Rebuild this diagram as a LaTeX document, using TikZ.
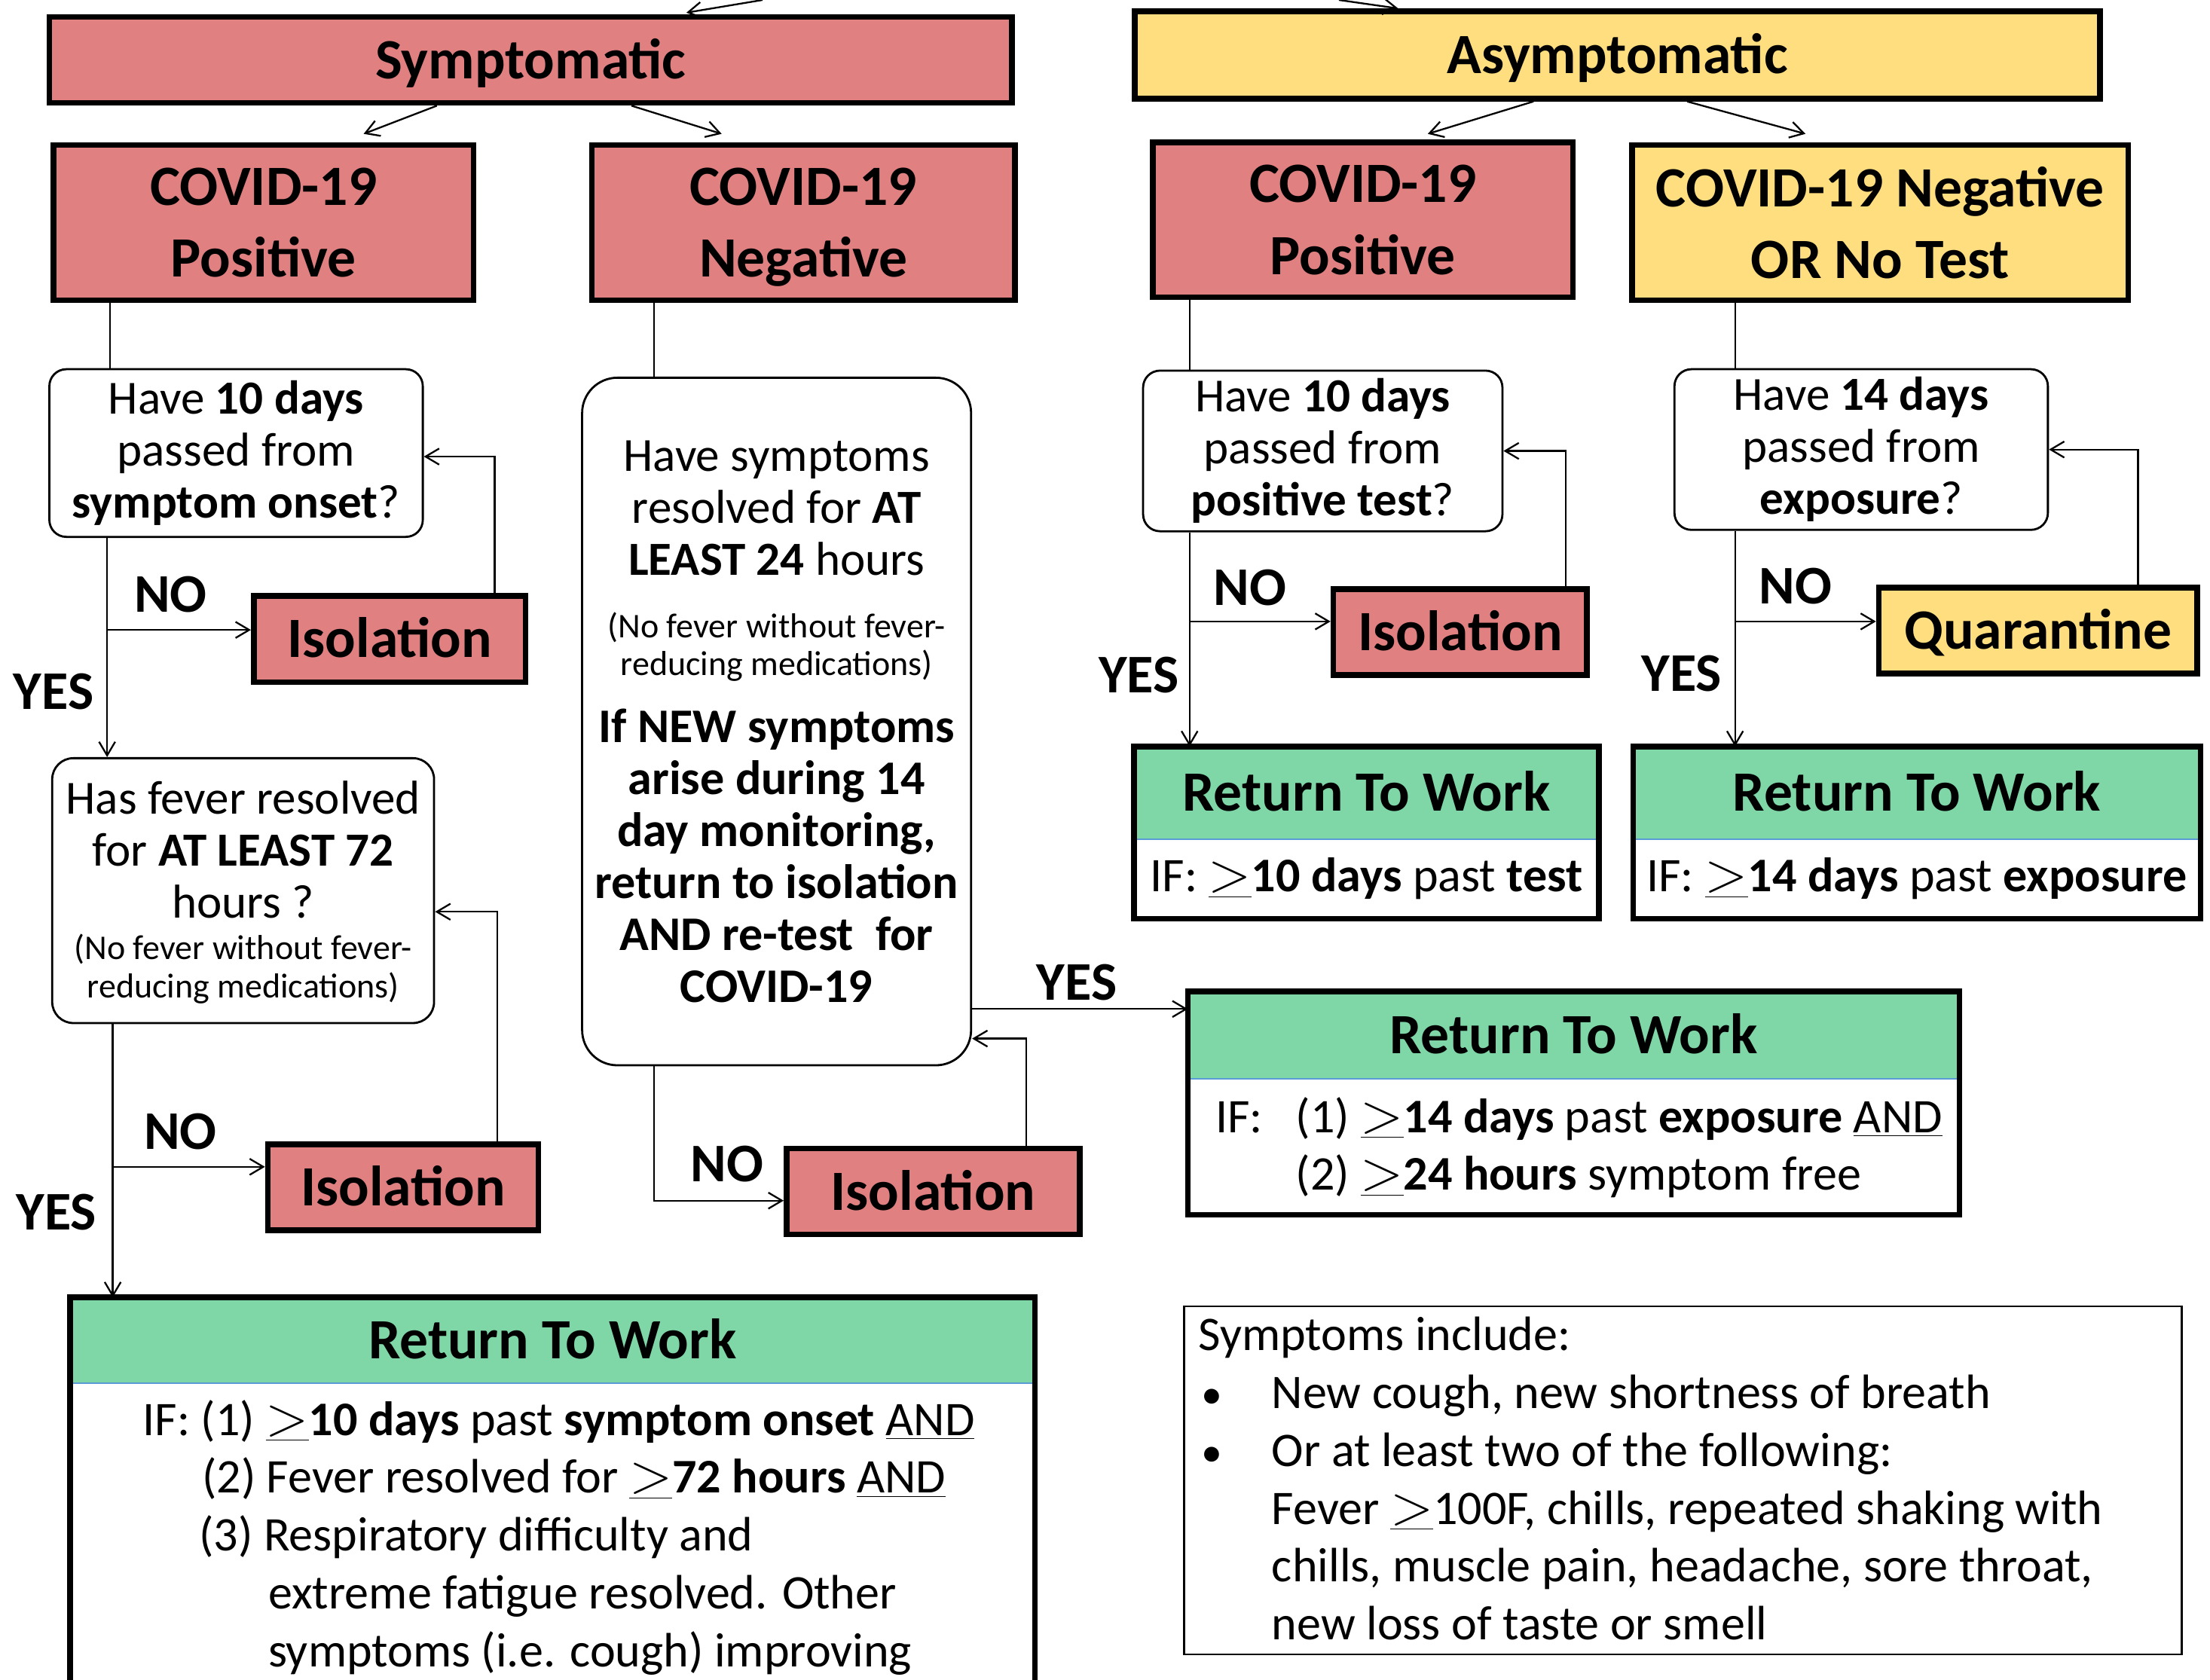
\documentclass[tikz,border=0pt]{standalone}
\usepackage{fontspec}
\setmainfont{Carlito}
\usetikzlibrary{arrows.meta}
\definecolor{redf}{HTML}{E08080}
\definecolor{yelf}{HTML}{FFDE80}
\definecolor{grnf}{HTML}{7FD6A6}
\definecolor{divl}{HTML}{5B9BD5}
\newcommand{\fsz}[2]{\fontsize{#1}{#2}\selectfont}
\newcommand{\geqc}{\ensuremath{\underline{\hbox{\scalebox{1.1}{$>$}}}}}
\begin{document}
\begin{tikzpicture}[x=0.02cm,y=-0.02cm,
  thickbox/.style={draw=black, line width=2.3pt, inner sep=0pt, align=center, font=\fsz{23}{29}\bfseries},
  oneline/.style={text height=15pt, text depth=0pt},
  twoline/.style={text depth=-2.2pt},
  redbox/.style={thickbox, fill=redf},
  yelbox/.style={thickbox, fill=yelf},
  qbox/.style={draw=black, line width=0.85pt, rounded corners=0.24cm, fill=white, align=center, inner sep=0pt, font=\fsz{19.2}{21}},
  qtext/.style={align=center, inner sep=0pt, font=\fsz{19.2}{21}},
  smalltext/.style={align=center, inner sep=0pt, font=\fsz{14}{15.4}},
  conn/.style={draw=black, line width=0.7pt, -{Straight Barb[length=5.5pt,width=6.5pt]}},
  plain/.style={draw=black, line width=0.7pt},
  lbl/.style={font=\fsz{22}{26}\bfseries, inner sep=0pt},
  txt/.style={inner sep=0pt, font=\fsz{19.5}{23.3}, text height=14.6pt, text depth=2.6pt, anchor=west},
  hdr/.style={fill=grnf, inner sep=0pt, font=\fsz{23}{27}\bfseries, text height=15pt, text depth=0pt},
  bodyb/.style={fill=white, inner sep=0pt, font=\fsz{19.5}{23.3}},
  outer/.style={draw=black, line width=2.3pt},
  divider/.style={draw=divl, line width=0.6pt}
]
\path[use as bounding box] (0,0) rectangle (1568,1192);
\clip (0,0) rectangle (1568,1192);
\fill[white] (0,0) rectangle (1568,1192);

% top level
\node[redbox, oneline, minimum width=13.66cm, minimum height=1.22cm] (symp) at (376.5,42.5) {Symptomatic};
\node[yelbox, oneline, minimum width=13.70cm, minimum height=1.24cm] (asym) at (1147.5,39) {Asymptomatic};

% second level
\node[redbox, twoline, minimum width=5.96cm, minimum height=2.2cm] (cposL) at (187,158) {COVID-19\\Positive};
\node[redbox, twoline, minimum width=6.0cm, minimum height=2.2cm] (cnegL) at (570,158) {COVID-19\\Negative};
\node[redbox, twoline, minimum width=5.96cm, minimum height=2.2cm] (cposR) at (967,156) {COVID-19\\Positive};
\node[yelbox, twoline, minimum width=7.04cm, minimum height=2.2cm] (cnegR) at (1334,158) {COVID-19 Negative\\OR No Test};

% question boxes
\node[qbox, minimum width=5.3cm, minimum height=2.38cm] (q1) at (167.5,321.5) {Have \textbf{10 days}\\passed from\\\textbf{symptom onset}?};
\node[qbox, minimum width=5.1cm, minimum height=2.28cm] (q3) at (938.5,320) {Have \textbf{10 days}\\passed from\\\textbf{positive test}?};
\node[qbox, minimum width=5.3cm, minimum height=2.28cm] (q4) at (1320.5,319) {Have \textbf{14 days}\\passed from\\\textbf{exposure}?};

% fever box
\node[qbox, minimum width=5.42cm, minimum height=3.76cm, rounded corners=0.3cm] (fever) at (172.5,632) {};
\node[qtext] (fevT) at (172.5,603) {Has fever resolved\\for \textbf{AT LEAST 72}\\hours ?};
\node[smalltext] (fevS) at (172.5,687.5) {(No fever without fever-\\reducing medications)};

% middle box
\node[qbox, minimum width=5.52cm, minimum height=9.76cm, rounded corners=0.5cm] (mid) at (551,512) {};
\node[qtext] (midT) at (551,360.5) {Have symptoms\\resolved for \textbf{AT}\\\textbf{LEAST 24} hours};
\node[smalltext] (midS) at (551,459) {(No fever without fever-\\reducing medications)};
\node[qtext, font=\fsz{19.5}{21}\bfseries] (midB) at (551,607.5) {If NEW symptoms\\arise during 14\\day monitoring,\\return to isolation\\AND re-test~ for\\COVID-19};

% isolation / quarantine
\node[redbox, oneline, minimum width=3.86cm, minimum height=1.22cm] (iso1) at (276.5,453.5) {Isolation};
\node[redbox, oneline, minimum width=3.84cm, minimum height=1.22cm] (iso2) at (286,842.5) {Isolation};
\node[redbox, oneline, minimum width=4.16cm, minimum height=1.22cm] (iso3) at (662,845.5) {Isolation};
\node[redbox, oneline, minimum width=3.6cm, minimum height=1.22cm] (iso4) at (1036,448.5) {Isolation};
\node[yelbox, oneline, minimum width=4.52cm, minimum height=1.22cm] (quar) at (1446,447.5) {Quarantine};

% Return to work A
\node[hdr, minimum width=6.58cm, minimum height=1.3cm] (hdrA) at (969.5,562.5) {Return To Work};
\node[bodyb, minimum width=6.58cm, minimum height=1.12cm, anchor=north] (bodyA) at (hdrA.south) {IF: \geqc\textbf{10 days} past \textbf{test}};
\draw[divider] (hdrA.south west) -- (hdrA.south east);
\draw[outer] (hdrA.north west) rectangle (bodyA.south east);

% Return to work B
\node[hdr, minimum width=8.04cm, minimum height=1.3cm] (hdrB) at (1360,562.5) {Return To Work};
\node[bodyb, minimum width=8.04cm, minimum height=1.12cm, anchor=north] (bodyB) at (hdrB.south) {IF: \geqc\textbf{14 days} past \textbf{exposure}};
\draw[divider] (hdrB.south west) -- (hdrB.south east);
\draw[outer] (hdrB.north west) rectangle (bodyB.south east);

% Return to work C
\node[hdr, minimum width=10.94cm, minimum height=1.22cm] (hdrC) at (1116.5,734.5) {Return To Work};
\node[bodyb, minimum width=10.94cm, minimum height=1.92cm, anchor=north] (bodyC) at (hdrC.south) {};
\draw[divider] (hdrC.south west) -- (hdrC.south east);
\draw[outer] (hdrC.north west) rectangle (bodyC.south east);
\node[txt] (c0) at (862,793) {IF:};
\node[txt] (c1) at (919,793) {(1) \geqc\textbf{14 days} past \textbf{exposure} \underline{AND}};
\node[txt] (c2) at (919,834) {(2) \geqc\textbf{24 hours} symptom free};

% Return to work D
\node[hdr, minimum width=13.68cm, minimum height=1.2cm] (hdrD) at (392,951) {Return To Work};
\node[bodyb, minimum width=13.68cm, minimum height=4.68cm, anchor=north] (bodyD) at (hdrD.south) {};
\draw[divider] (hdrD.south west) -- (hdrD.south east);
\draw[outer] (hdrD.north west) rectangle (bodyD.south east);
\node[txt] (d1) at (101,1008) {IF: (1) \geqc\textbf{10 days} past \textbf{symptom onset} \underline{AND}};
\node[txt] (d2) at (143,1049) {(2) Fever resolved for \geqc\textbf{72 hours} \underline{AND}};
\node[txt] (d3) at (141,1090) {(3) Respiratory difficulty and};
\node[txt] (d4) at (190,1131) {extreme fatigue resolved. Other};
\node[txt] (d5) at (190,1172) {symptoms (i.e. cough) improving};

% symptoms box
\node[draw=black, line width=0.7pt, fill=white, minimum width=14.16cm, minimum height=4.94cm, inner sep=0pt] (sbox) at (1194,1050.5) {};
\node[txt] (s0) at (850,948) {Symptoms include:};
\node[txt, font=\fsz{17}{20}] (sb1) at (852,989) {•};
\node[txt] (s1) at (902,989) {New cough, new shortness of breath};
\node[txt, font=\fsz{17}{20}] (sb2) at (852,1030) {•};
\node[txt] (s2) at (902,1030) {Or at least two of the following:};
\node[txt] (s3) at (902,1071) {Fever \geqc100F, chills, repeated shaking with};
\node[txt] (s4) at (902,1112) {chills, muscle pain, headache, sore throat,};
\node[txt] (s5) at (902,1153) {new loss of taste or smell};

% labels
\node[lbl] (l1) at (121,422) {NO};
\node[lbl] (l2) at (38,491) {YES};
\node[lbl] (l3) at (128,803) {NO};
\node[lbl] (l4) at (40,860) {YES};
\node[lbl] (l5) at (516,826) {NO};
\node[lbl] (l6) at (764,697) {YES};
\node[lbl] (l7) at (887,417) {NO};
\node[lbl] (l8) at (808,479) {YES};
\node[lbl] (l9) at (1274,416) {NO};
\node[lbl] (l10) at (1193,478) {YES};

% helper coordinates
\coordinate (cA) at (78,0);
\coordinate (cA2) at (76,0);
\coordinate (cB) at (80,0);
\coordinate (fb1) at (351,0);
\coordinate (fb2) at (353,0);
\coordinate (cM) at (464,0);
\coordinate (fb3) at (728,0);
\coordinate (cR) at (844,0);
\coordinate (fb4) at (1111,0);
\coordinate (cQ) at (1231,0);
\coordinate (fb5) at (1517,0);
\coordinate (no1) at (0,447);
\coordinate (no2) at (0,828);
\coordinate (no3) at (0,852);
\coordinate (no4) at (0,441);
\coordinate (fbl1) at (0,324);
\coordinate (fbl2) at (0,647);
\coordinate (fbl3) at (0,737);
\coordinate (yesM) at (0,716);
\coordinate (tL) at (541,0);
\coordinate (tLe) at (487,9);
\coordinate (tR) at (950,0);
\coordinate (tRe) at (992,6);
\coordinate (sa) at (310,0);
\coordinate (sb) at (448,0);
\coordinate (aa) at (1088,0);
\coordinate (ab) at (1197,0);
\coordinate (e1) at (258,95);
\coordinate (e2) at (512,95);
\coordinate (e3) at (1013,95);
\coordinate (e4) at (1281,95);

% top connectors
\draw[conn] (tL) -- (tLe);
\draw[conn] (tR) -- (tRe);
\draw[conn] (symp.south -| sa) -- (e1);
\draw[conn] (symp.south -| sb) -- (e2);
\draw[conn] (asym.south -| aa) -- (e3);
\draw[conn] (asym.south -| ab) -- (e4);

% left column
\draw[plain] (cposL.south -| cA) -- (q1.north -| cA);
\draw[conn] (q1.south -| cA2) -- (fever.north -| cA2);
\draw[conn] (no1 -| cA2) -- (iso1.west |- no1);
\draw[conn] (iso1.north -| fb1) |- (q1.east |- fbl1);
\draw[conn] (fever.south -| cB) -- (hdrD.north -| cB);
\draw[conn] (no2 -| cB) -- (iso2.west |- no2);
\draw[conn] (iso2.north -| fb2) |- (fever.east |- fbl2);

% middle column
\draw[plain] (cnegL.south -| cM) -- (mid.north -| cM);
\draw[conn] (mid.south -| cM) |- (iso3.west |- no3);
\draw[conn] (iso3.north -| fb3) |- (mid.east |- fbl3);
\draw[conn] (mid.east |- yesM) -- (hdrC.west |- yesM);

% right columns
\draw[plain] (cposR.south -| cR) -- (q3.north -| cR);
\draw[conn] (q3.south -| cR) -- (hdrA.north -| cR);
\draw[conn] (no4 -| cR) -- (iso4.west |- no4);
\draw[conn] (iso4.north -| fb4) |- (q3.east);
\draw[plain] (cnegR.south -| cQ) -- (q4.north -| cQ);
\draw[conn] (q4.south -| cQ) -- (hdrB.north -| cQ);
\draw[conn] (no4 -| cQ) -- (quar.west |- no4);
\draw[conn] (quar.north -| fb5) |- (q4.east);
\end{tikzpicture}
\end{document}
